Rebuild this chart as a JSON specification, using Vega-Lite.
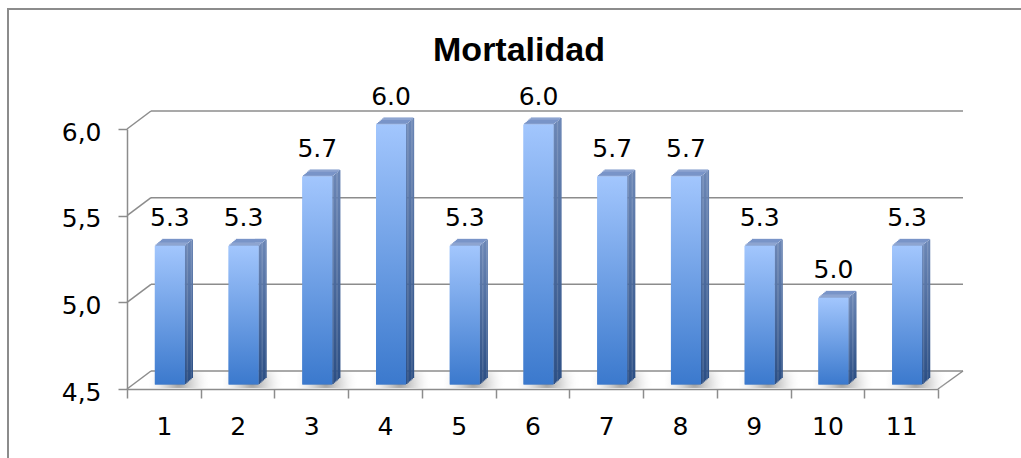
{
  "$schema": "https://vega.github.io/schema/vega-lite/v6.json",
  "width": 811,
  "height": 260,
  "autosize": "none",
  "padding": {"left": 127, "top": 129, "right": 83, "bottom": 69},
  "datasets": {
    "mortalidad": [
      {"n": 1, "v": 5.3},
      {"n": 2, "v": 5.3},
      {"n": 3, "v": 5.7},
      {"n": 4, "v": 6.0},
      {"n": 5, "v": 5.3},
      {"n": 6, "v": 6.0},
      {"n": 7, "v": 5.7},
      {"n": 8, "v": 5.7},
      {"n": 9, "v": 5.3},
      {"n": 10, "v": 5.0},
      {"n": 11, "v": 5.3}
    ],
    "grid": [{"v": 4.5}, {"v": 5.0}, {"v": 5.5}, {"v": 6.0}],
    "titulo": [{"texto": "Mortalidad"}]
  },
  "layer": [
    {
      "description": "column front faces; this layer carries both axes",
      "data": {"name": "mortalidad"},
      "mark": {
        "type": "bar", "width": 30, "xOffset": 6, "yOffset": -4.5, "y2Offset": -4.5,
        "fill": {
          "gradient": "linear", "x1": 0, "y1": 0, "x2": 0, "y2": 1,
          "stops": [
            {"offset": 0, "color": "#a2c6fd"},
            {"offset": 1, "color": "#3b79cd"}
          ]
        }
      },
      "encoding": {
        "x": {
          "field": "n", "type": "ordinal",
          "scale": {"type": "band", "domain": [1, 2, 3, 4, 5, 6, 7, 8, 9, 10, 11], "paddingInner": 0, "paddingOuter": 0},
          "axis": {
            "title": null, "orient": "bottom", "labelAngle": 0,
            "tickBand": "extent", "tickSize": 9, "tickWidth": 1.5, "tickColor": "#8c8c8c",
            "domainColor": "#8c8c8c", "domainWidth": 1.5, "grid": false,
            "labelFont": "DejaVu Sans", "labelFontSize": 25, "labelColor": "#000000", "labelPadding": 16
          }
        },
        "y": {
          "field": "v", "type": "quantitative",
          "scale": {"domain": [4.5, 6.0], "zero": false, "nice": false},
          "axis": {
            "title": null, "orient": "left", "values": [4.5, 5.0, 5.5, 6.0],
            "labelExpr": "replace(format(datum.value, '.1f'), '.', ',')",
            "tickSize": 9, "tickWidth": 1.5, "tickColor": "#8c8c8c",
            "domainColor": "#8c8c8c", "domainWidth": 1.5, "grid": false,
            "labelFont": "DejaVu Sans", "labelFontSize": 25, "labelColor": "#000000", "labelPadding": 17, "labelOffset": 3
          }
        },
        "y2": {"datum": 4.5}
      }
    },
    {
      "description": "chart frame: top edge",
      "data": {"name": "titulo"},
      "mark": {"type": "rule", "color": "#8c8c8c", "strokeWidth": 2, "xOffset": -119, "x2Offset": 90, "yOffset": -120},
      "encoding": {
        "x": {"datum": 1, "type": "ordinal", "bandPosition": 0},
        "x2": {"datum": 11, "bandPosition": 1},
        "y": {"datum": 6.0, "type": "quantitative"}
      }
    },
    {
      "description": "chart frame: left edge",
      "data": {"name": "titulo"},
      "mark": {"type": "rule", "color": "#8c8c8c", "strokeWidth": 2, "xOffset": -119, "yOffset": -121, "y2Offset": 80},
      "encoding": {
        "x": {"datum": 1, "type": "ordinal", "bandPosition": 0},
        "y": {"datum": 6.0, "type": "quantitative"},
        "y2": {"datum": 4.5}
      }
    },
    {
      "description": "chart title",
      "data": {"name": "titulo"},
      "mark": {"type": "text", "font": "Liberation Sans", "fontSize": 34, "fontWeight": "bold", "color": "#000000", "align": "center", "baseline": "alphabetic", "xOffset": -13.5, "yOffset": -68},
      "encoding": {
        "x": {"datum": 6, "type": "ordinal"},
        "y": {"datum": 6.0, "type": "quantitative"},
        "text": {"field": "texto"}
      }
    },
    {
      "description": "back wall gridlines",
      "data": {"name": "grid"},
      "mark": {"type": "rule", "color": "#8c8c8c", "strokeWidth": 1.5, "xOffset": 24, "x2Offset": 25, "yOffset": -18},
      "encoding": {
        "x": {"datum": 1, "type": "ordinal", "bandPosition": 0},
        "x2": {"datum": 11, "bandPosition": 1},
        "y": {"field": "v", "type": "quantitative"}
      }
    },
    {
      "description": "side wall gridline segments",
      "data": {"name": "grid"},
      "mark": {"type": "rule", "color": "#8c8c8c", "strokeWidth": 1.5, "x2Offset": 24, "y2Offset": -18},
      "encoding": {
        "x": {"datum": 1, "type": "ordinal", "bandPosition": 0},
        "x2": {"datum": 1, "bandPosition": 0},
        "y": {"field": "v", "type": "quantitative"},
        "y2": {"field": "v"}
      }
    },
    {
      "description": "right edge of the floor",
      "data": {"name": "grid"},
      "transform": [{"filter": "datum.v == 4.5"}],
      "mark": {"type": "rule", "color": "#8c8c8c", "strokeWidth": 1.5, "x2Offset": 25, "y2Offset": -18},
      "encoding": {
        "x": {"datum": 11, "type": "ordinal", "bandPosition": 1},
        "x2": {"datum": 11, "bandPosition": 1},
        "y": {"field": "v", "type": "quantitative"},
        "y2": {"field": "v"}
      }
    },
    {
      "description": "soft floor shadow behind each column",
      "data": {"name": "mortalidad"},
      "mark": {
        "type": "bar", "width": 66, "xOffset": 18, "yOffset": -17, "y2Offset": -1,
        "fill": {
          "gradient": "radial", "x1": 0.45, "y1": 0.55, "r1": 0, "x2": 0.45, "y2": 0.55, "r2": 0.5,
          "stops": [
            {"offset": 0, "color": "rgba(120,120,120,0.75)"},
            {"offset": 0.5, "color": "rgba(170,170,170,0.35)"},
            {"offset": 1, "color": "rgba(255,255,255,0)"}
          ]
        }
      },
      "encoding": {
        "x": {"field": "n", "type": "ordinal"},
        "y": {"datum": 4.5, "type": "quantitative"},
        "y2": {"datum": 4.5}
      }
    },
    {
      "description": "column side faces, drawn as thin slices stepping back in depth",
      "data": {"name": "mortalidad"},
      "layer": [
        {"mark": {"type": "bar", "width": 1.6, "xOffset": 21.67, "yOffset": -5.08, "y2Offset": -5.08}},
        {"mark": {"type": "bar", "width": 1.6, "xOffset": 23.0, "yOffset": -6.25, "y2Offset": -6.25}},
        {"mark": {"type": "bar", "width": 1.6, "xOffset": 24.33, "yOffset": -7.42, "y2Offset": -7.42}},
        {"mark": {"type": "bar", "width": 1.6, "xOffset": 25.67, "yOffset": -8.58, "y2Offset": -8.58}},
        {"mark": {"type": "bar", "width": 1.6, "xOffset": 27.0, "yOffset": -9.75, "y2Offset": -9.75}},
        {"mark": {"type": "bar", "width": 1.6, "xOffset": 28.33, "yOffset": -10.92, "y2Offset": -10.92}}
      ],
      "encoding": {
        "x": {"field": "n", "type": "ordinal"},
        "y": {"field": "v", "type": "quantitative"},
        "y2": {"datum": 4.5},
        "color": {
          "value": {
            "gradient": "linear", "x1": 0, "y1": 0, "x2": 0, "y2": 1,
            "stops": [
              {"offset": 0, "color": "#6b86b5"},
              {"offset": 1, "color": "#2c4f85"}
            ]
          }
        }
      }
    },
    {
      "description": "column top faces, drawn as thin slices stepping back in depth",
      "data": {"name": "mortalidad"},
      "layer": [
        {"mark": {"type": "bar", "width": 30, "xOffset": 6.67, "yOffset": -5.87, "y2Offset": -4.5}},
        {"mark": {"type": "bar", "width": 30, "xOffset": 8.0, "yOffset": -7.03, "y2Offset": -5.67}},
        {"mark": {"type": "bar", "width": 30, "xOffset": 9.33, "yOffset": -8.2, "y2Offset": -6.83}},
        {"mark": {"type": "bar", "width": 30, "xOffset": 10.67, "yOffset": -9.37, "y2Offset": -8.0}},
        {"mark": {"type": "bar", "width": 30, "xOffset": 12.0, "yOffset": -10.53, "y2Offset": -9.17}},
        {"mark": {"type": "bar", "width": 30, "xOffset": 13.33, "yOffset": -11.5, "y2Offset": -10.33}}
      ],
      "encoding": {
        "x": {"field": "n", "type": "ordinal"},
        "y": {"field": "v", "type": "quantitative"},
        "y2": {"field": "v"},
        "color": {"value": "#7994c8"}
      }
    },
    {
      "description": "column front faces, drawn again over the side and top faces",
      "data": {"name": "mortalidad"},
      "mark": {
        "type": "bar", "width": 30, "xOffset": 6, "yOffset": -4.5, "y2Offset": -4.5,
        "fill": {
          "gradient": "linear", "x1": 0, "y1": 0, "x2": 0, "y2": 1,
          "stops": [
            {"offset": 0, "color": "#a2c6fd"},
            {"offset": 1, "color": "#3b79cd"}
          ]
        }
      },
      "encoding": {
        "x": {"field": "n", "type": "ordinal"},
        "y": {"field": "v", "type": "quantitative"},
        "y2": {"datum": 4.5}
      }
    },
    {
      "description": "value labels above each column",
      "data": {"name": "mortalidad"},
      "mark": {"type": "text", "font": "DejaVu Sans", "fontSize": 25, "color": "#000000", "baseline": "alphabetic", "align": "center", "xOffset": 6, "yOffset": -24.5},
      "encoding": {
        "x": {"field": "n", "type": "ordinal"},
        "y": {"field": "v", "type": "quantitative"},
        "text": {"field": "v", "type": "quantitative", "format": ".1f"}
      }
    }
  ],
  "config": {
    "view": {"stroke": null},
    "background": "#ffffff"
  }
}
